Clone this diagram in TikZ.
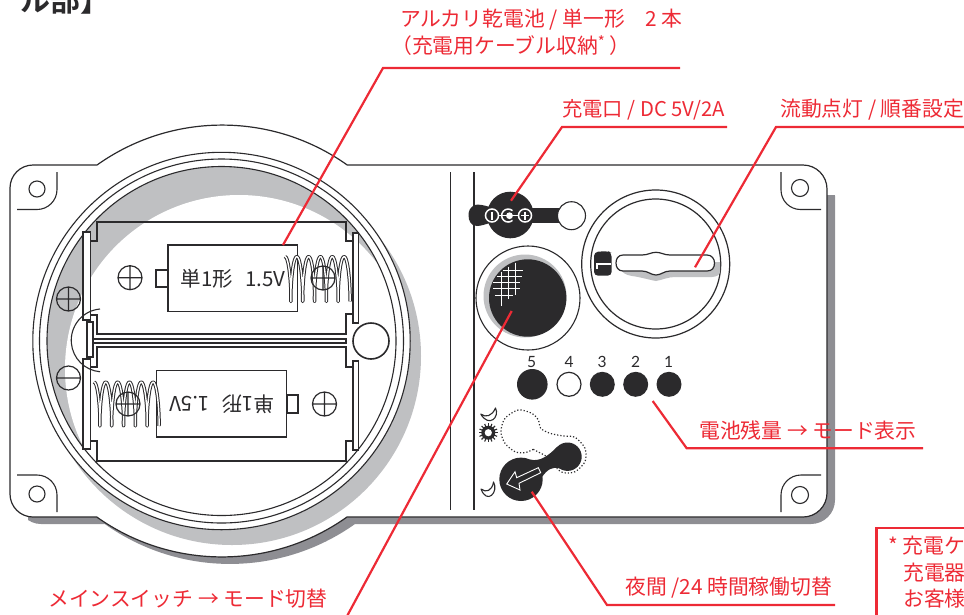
\documentclass[tikz,border=0pt]{standalone}
\usepackage{fontspec}
\newfontfamily\jp{Noto Sans CJK JP}
\newfontfamily\jpb{Noto Sans CJK JP Bold}
\setsansfont{Lato}
\definecolor{ink}{HTML}{2B2A2C}
\definecolor{redl}{HTML}{ED2A35}
\definecolor{shadowd}{HTML}{8E8E93}
\definecolor{shadowl}{HTML}{BFC0C2}
\tikzset{
 ln/.style={draw=ink,line width=1.1pt},
 lead/.style={draw=redl,line width=2.2pt},
 lab/.style={text=redl,font=\jp\fontsize{20.8}{24}\selectfont,inner sep=0pt,anchor=base west},
 batt/.style={text=ink,font=\jp\fontsize{20.5}{22}\selectfont,inner sep=0pt},
 num/.style={text=ink,font=\sffamily\fontsize{15.5}{17}\selectfont,inner sep=0pt},
 coil/.style={draw=ink,line width=1pt,double=white,double distance=1.4pt,line join=round},
 moon/.style={draw=ink,line width=1.1pt,fill=white,line join=round},
 dotl/.style={draw=ink,line width=1.2pt,dash pattern=on 1.2pt off 2pt}
}
\newcommand{\screwplus}[3]{\draw[ln,line width=1.2pt] (#1,#2) circle (#3) (#1-#3,#2)--(#1+#3,#2) (#1,#2-#3)--(#1,#2+#3);}
\newcommand{\panelpath}{(10,188) arc (180:270:23) -- (97,165) arc (234.6:305.4:216) -- (803,165) arc (270:360:24) -- (827,493) arc (0:90:24) -- (347,517) arc (54.6:125.4:216) -- (33,517) arc (90:180:23) -- cycle}
\begin{document}
\begin{tikzpicture}[x=1pt,y=1pt,yscale=-1]
\useasboundingbox (0,0) rectangle (964,614);
\clip (0,0) rectangle (964,614);
% panel shadow
\begin{scope}
\clip (28,195) rectangle (964,614);
\fill[shadowd,shift={(8,7)}] \panelpath;
\end{scope}
% panel
\draw[ln,fill=white,line width=1.2pt] \panelpath;
% corner holes
\draw[ln] (37,189) circle (8);
\draw[ln] (17,209.5) -- (37,209.5) arc (90:0:20) -- (57,172);
\draw[ln] (37,494) circle (8);
\draw[ln] (17,475) -- (37,475) arc (270:360:20) -- (57,512);
\draw[ln] (800,188) circle (8.5);
\draw[ln] (781,172) -- (781,190) arc (180:90:19.5) -- (821,209.5);
\draw[ln] (800,495) circle (8.5);
\draw[ln] (781,512) -- (781,495) arc (180:270:20) -- (821,475);
% round well
\fill[shadowl] (232,356) circle (189);
\draw[ln,fill=white] (221.5,341) circle (188.7);
\draw[ln] (221.5,341) circle (182);
\begin{scope}
\clip (221.5,341) circle (174.5);
\fill[shadowl] (221.5,341) circle (174.5);
\fill[white] (239,369) circle (174);
\end{scope}
\draw[ln] (221.5,341) circle (174.5);
% battery holder
\draw[ln] (91,241) -- (97,241) -- (97,222) -- (346,222) -- (346,241) -- (353,241);
\draw[ln] (91,315) -- (97,315) -- (97,334) -- (346,334) -- (346,314) -- (353,314);
\draw[ln] (91,367) -- (97,367) -- (97,347) -- (346,347) -- (346,367) -- (353,367);
\draw[ln] (91,441) -- (97,441) -- (97,461) -- (346,461) -- (346,441) -- (353,441);
\draw[ln,fill=white] (93,339) rectangle (346,343);
\draw[ln,fill=white] (83,232) rectangle (90.5,320);
\draw[ln,fill=white] (83,359) rectangle (90.5,449);
\draw[ln,fill=white] (353,233) rectangle (358.7,323);
\draw[ln,fill=white] (353,361) rectangle (358.7,450);
\draw[ln] (100,309) arc (-95:-265:31.5);
\draw[ln,fill=white] (87,322) rectangle (93,357);
% batteries
\draw[ln,fill=white] (156,270) rectangle (168,287);
\draw[ln,fill=white] (168,245) rectangle (297.7,311.7);
\draw[ln,fill=white] (287,395) rectangle (298,413);
\draw[ln,fill=white] (156.7,370.7) rectangle (286.7,437);
\node[batt] (bat1) at (233,279) {単1形\hspace{0.6em}1.5V};
\node[batt,rotate=180] (bat2) at (222,404) {単1形\hspace{0.6em}1.5V};
% springs
\draw[coil] plot[smooth,domain=0:1980,samples=110,variable=\t] ({285+\t/1980*65+2.2*sin(\t)},{279-22.5*cos(\t)});
\draw[coil] plot[smooth,domain=0:1980,samples=110,variable=\t] ({94+\t/1980*65+2.2*sin(\t)},{404-22*cos(\t)});
% screws
\screwplus{130}{277.7}{12}
\screwplus{68.5}{299}{12}
\draw[ln,line width=1.2pt] (68.5,378) circle (12) (56.5,378)--(80.5,378);
\screwplus{324.5}{404}{12}
\screwplus{323}{278}{12}
\screwplus{128}{404}{12}
\draw[ln,line width=1.6pt,fill=white] (371,341) circle (18);
% partition
\draw[ln] (450.7,172) -- (450.7,509.5);
\draw[ln] (474,172) -- (474,509.5);
% charge port
\fill[ink] (490,207) .. controls (483,205) and (478,204) .. (475,205) .. controls (470,207) and (468.5,211) .. (468.5,215) .. controls (468.5,221) and (471,226) .. (477,226) .. controls (481,226) and (486,224) .. (490,223) -- cycle;
\fill[ink] (510,208.3) rectangle (561,223.3);
\fill[ink] (510.3,215) circle (23.3);
\draw[ln,fill=white] (571.5,215.7) circle (14);
\draw[white,line width=1.3pt] (492,215.5) -- (525,215.5);
\draw[white,line width=1.5pt,fill=ink] (492,215.5) circle (6.5);
\draw[white,line width=1.7pt] (492,211.5) -- (492,219.5);
\draw[white,line width=1.5pt] (512.5,210.7) arc (-48:-312:6.5);
\fill[white] (509.5,215.7) circle (3.4);
\draw[white,line width=1.5pt,fill=ink] (525,215.5) circle (6.5);
\draw[white,line width=1.6pt] (521,215.5) -- (529,215.5) (525,211.5) -- (525,219.5);
% main switch
\draw[ln,fill=white] (528,298) circle (52);
\fill[shadowl] (525,296) circle (41.5);
\fill[ink] (527.7,298) circle (38.7);
\draw[white,line width=0.9pt]
 (501.7,271.7) -- (501.7,305.7) (508.3,266.7) -- (508.3,299.3) (515,262.7) -- (515,295)
 (503.3,270) -- (523.3,270) (496.7,276.7) -- (521.7,276.7) (493.3,282.7) -- (520,282.7)
 (493.3,288.3) -- (520,288.3) (495,295) -- (513.3,295);
% dial
\draw[ln,line width=1.2pt,fill=white] (655.7,264) circle (74);
\draw[ln,line width=1.2pt] (655.7,264) circle (65);
\fill[shadowl] (621,262) -- (720,262) -- (720,272) .. controls (719,276) and (716,276.5) .. (712,277) -- (675,277) .. controls (668,277) and (662,280) .. (656,281) .. controls (650,280) and (640,277) .. (632,276) .. controls (625,275) and (621,272) .. (621,268) -- cycle;
\draw[ln,line width=1.2pt,fill=white] (623,255) -- (642,255) .. controls (648,255) and (651,252.3) .. (656,252.3) .. controls (661,252.3) and (664,255) .. (670,255) -- (707,255) .. controls (712,255) and (714.5,259) .. (714.5,263) .. controls (714.5,268) and (712,271) .. (707,271) -- (670,271) .. controls (664,271) and (661,275) .. (656,275) .. controls (651,275) and (648,271) .. (642,271) -- (623,271) .. controls (618,271) and (616,267) .. (616,263) .. controls (616,259) and (618,255) .. (623,255) -- cycle;
\fill[ink,rounded corners=4pt] (594,252) -- (608,251) -- (611.7,253) -- (611.7,275.7) -- (594,275.7) -- cycle;
\draw[white,line width=2.2pt] (611,264) -- (597,264) -- (597,269);
% LEDs
\node[num] (n5) at (531.7,362) {5};
\node[num] (n4) at (569,362) {4};
\node[num] (n3) at (602,362) {3};
\node[num] (n2) at (635.7,362) {2};
\node[num] (n1) at (668.7,362) {1};
\fill[ink] (532.3,384.3) circle (15.3);
\draw[ln,line width=1.2pt,fill=white] (569,384.3) circle (12);
\fill[ink] (602.3,384.3) circle (12.5);
\fill[ink] (635.7,384.3) circle (12.5);
\fill[ink] (669,384.3) circle (12.5);
% slide switch
\draw[dotl] plot[smooth] coordinates {(533.3,449.3) (525,452.7) (515,451.7) (505,443.3) (501,431.7) (505,418.3) (518.3,410) (531.7,413.3) (538.3,420) (540.7,428.3) (550,433.3) (563.3,436) (575,437.3) (585,448.3) (585,461.7) (575,471.7) (563.3,472.7) (556.7,468.3)};
\draw[dotl] (533.3,449.3) -- (547,456.5);
\fill[ink] (521,479.3) circle (21.7);
\fill[ink] (567.5,456.7) circle (14.2);
\fill[ink] (530,459.5) .. controls (540,462) and (548,456) .. (557,447) -- (560,468.5) .. controls (552,466) and (547,470) .. (542,477) -- (530,482) -- cycle;
\draw[white,line width=0.9pt,line join=miter] (538.3,467.7) -- (516.7,477.7) -- (515,471.7) -- (506.7,484) -- (520,490) -- (519,483.3) -- (540.7,472.7) -- cycle;
% moons and sun
\draw[moon] (495.5,408) .. controls (500,417) and (489,428) .. (480.7,414) .. controls (486,418) and (492,416) .. (495.5,408) -- cycle;
\draw[moon] (493.5,482) .. controls (499,492) and (487,505) .. (481,489) .. controls (486,493) and (492,491) .. (493.5,482) -- cycle;
\fill[ink] (488.3,432.7) circle (7);
\foreach \a in {0,22.5,...,337.5}{\draw[ink,line width=1.1pt] (488.3,432.7) -- ++(\a:9.5);}
\fill[white] (488.3,432.7) circle (3.6);
% labels
\node[lab] (l1) at (400,26.5) {アルカリ乾電池 / 単一形　2 本};
\node[lab] (l1b) at (391,53) {（充電用ケーブル収納\raisebox{0.28em}{\fontsize{15}{15}\selectfont *} ）};
\node[lab,font=\jp\fontsize{20.3}{24}\selectfont] (l2) at (562,116) {充電口 / DC 5V/2A};
\node[lab] (l3) at (780,116) {流動点灯 / 順番設定};
\node[lab] (l4) at (48,606.5) {メインスイッチ → モード切替};
\node[lab] (l5) at (699,438) {電池残量 → モード表示};
\node[lab] (l6) at (625,594) {夜間 /24 時間稼働切替};
\node[lab,font=\jpb\fontsize{30}{32}\selectfont,text=ink] (title) at (20,11) {ル部】};
% note box
\draw[lead,line width=2.4pt] (990,528) -- (876.5,528) -- (876.5,640);
\node[lab] (n1a) at (888,553) {* 充電ケ};
\node[lab] (n2a) at (903,580) {充電器};
\node[lab] (n3a) at (903,606) {お客様};
% leaders
\coordinate (a1) at (283,245); \coordinate (b1) at (383,68); \coordinate (c1) at (680,68);
\coordinate (a2) at (511,200.7); \coordinate (b2) at (562,127); \coordinate (c2) at (727,127);
\coordinate (a3) at (695,267.3); \coordinate (b3) at (776,127); \coordinate (c3) at (966,127);
\coordinate (a4) at (511.7,311); \coordinate (c4) at (346,618);
\coordinate (a5) at (652.7,401); \coordinate (b5) at (686.7,448.3); \coordinate (c5) at (923,448.3);
\coordinate (a6) at (531.7,491.7); \coordinate (b6) at (607,605); \coordinate (c6) at (835,605);
\draw[lead] (a1) -- (b1) -- (c1);
\draw[lead] (a2) -- (b2) -- (c2);
\draw[lead] (a3) -- (b3) -- (c3);
\draw[lead] (a4) -- (c4);
\draw[lead] (a5) -- (b5) -- (c5);
\draw[lead] (a6) -- (b6) -- (c6);
\end{tikzpicture}
\end{document}
